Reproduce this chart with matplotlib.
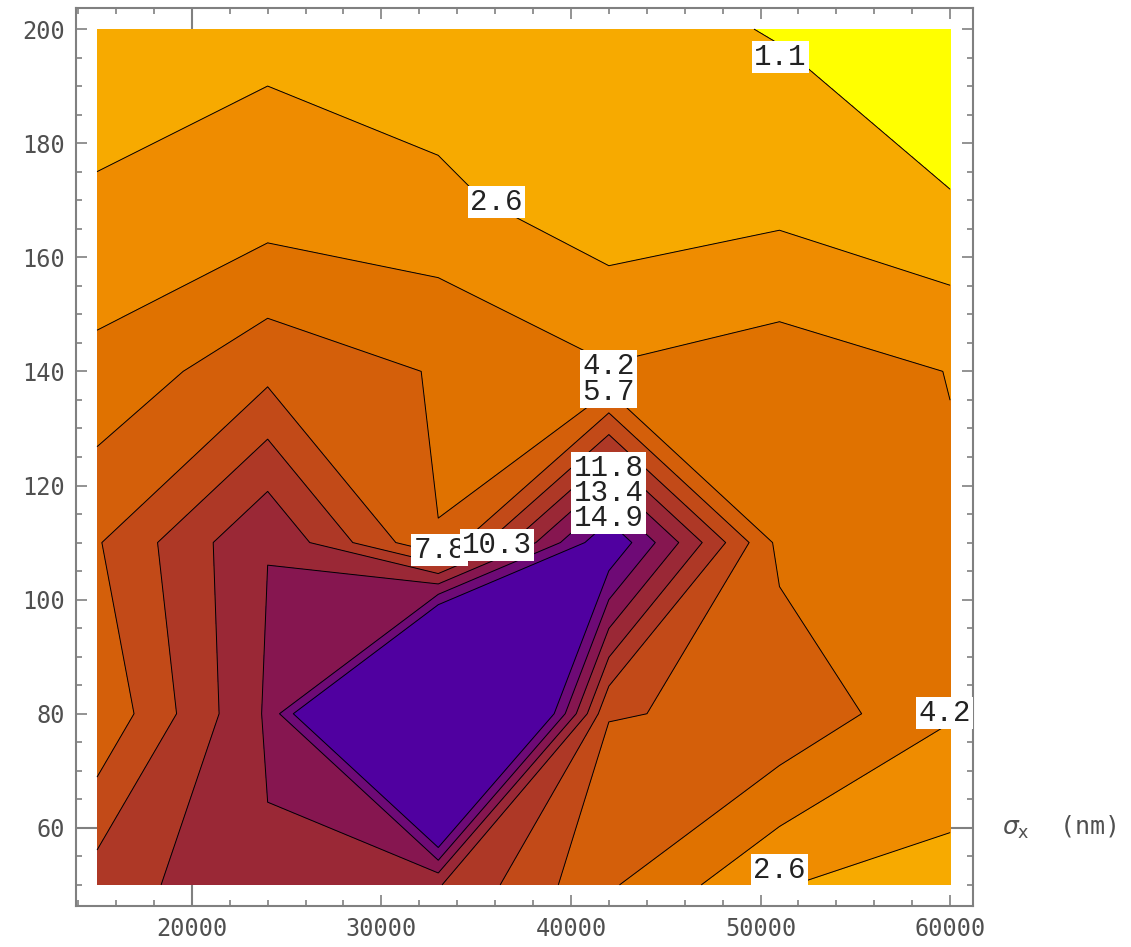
import matplotlib.pyplot as plt
import numpy as np
from matplotlib.ticker import MultipleLocator

# grid of the data (sigma_x in nm along x, second parameter along y)
x_vals = [15000, 24000, 33000, 42000, 51000, 60000]
y_vals = [50, 80, 110, 140, 170, 200]
z_rows = [
    [9.5, 11.63, 10.4, 5.9, 2.7, 1.9],     # y = 50
    [5.9, 12.05, 31.0, 7.3, 7.0, 4.3],     # y = 80
    [7.1, 11.8, 5.72, 16.4, 5.25, 4.35],   # y = 110
    [4.6, 6.78, 5.58, 4.3, 5.0, 4.13],     # y = 140
    [2.8, 3.3, 3.0, 1.6, 2.13, 1.155],     # y = 170
    [1.8, 2.3, 1.6, 1.67, 1.0, 0.3],       # y = 200
]

contour_levels = [1.1, 2.633, 4.167, 5.7, 7.233, 8.767, 10.3, 11.833, 13.367, 14.9]
band_colors = ['#FFFF00', '#F7AA00', '#EF8C00', '#E07200', '#D45F0A', '#C24A18',
               '#AE3826', '#9A2836', '#861650', '#6E0A76', '#5000A0']

# contour labels as they sit in the picture: text, x, y
contour_labels = [
    ('1.1', 51040, 195.1),
    ('2.6', 36080, 169.7),
    ('4.2', 41980, 140.9),
    ('5.7', 41980, 136.4),
    ('11.8', 41980, 123.1),
    ('13.4', 41980, 118.7),
    ('14.9', 41980, 114.3),
    ('7.8', 33070, 108.7),
    ('10.3', 36080, 109.6),
    ('4.2', 59700, 80.1),
    ('2.6', 50990, 52.6),
]

X, Y = np.meshgrid(x_vals, y_vals)
Z = np.array(z_rows)

fig = plt.figure(figsize=(11.31, 9.47), dpi=100)
ax = fig.add_axes([0.0672, 0.0433, 0.7931, 0.9483])

fill_levels = [Z.min() - 1] + contour_levels + [Z.max() + 1]
ax.contourf(X, Y, Z, levels=fill_levels, colors=band_colors, zorder=2)
ax.contour(X, Y, Z, levels=contour_levels, colors='black', linewidths=0.7, zorder=3)

# axes crossing at (20000, 60), mostly hidden under the filled contours
ax.axhline(60, color='#808080', lw=1.5, zorder=1)
ax.axvline(20000, color='#808080', lw=1.5, zorder=1)

for i, (txt, lx, ly) in enumerate(contour_labels):
    ax.text(lx, ly, txt, ha='center', va='center', fontsize=21,
            family='Liberation Mono', color='#222222', zorder=5 + i,
            bbox=dict(facecolor='white', edgecolor='none', pad=1.5))

ax.set_xlim(13890, 61210)
ax.set_ylim(46.3, 203.7)
ax.set_xticks([20000, 30000, 40000, 50000, 60000])
ax.set_yticks([60, 80, 100, 120, 140, 160, 180, 200])
ax.xaxis.set_minor_locator(MultipleLocator(2000))
ax.yaxis.set_minor_locator(MultipleLocator(5))
ax.tick_params(which='both', direction='in', top=True, right=True,
               labeltop=False, labelright=False, color='#808080', width=1.2)
ax.tick_params(which='major', length=8, pad=8, labelsize=17, labelcolor='#505050')
ax.tick_params(which='minor', length=4)
for lab in ax.get_xticklabels() + ax.get_yticklabels():
    lab.set_family('DejaVu Sans Mono')
for sp in ax.spines.values():
    sp.set_color('#808080')
    sp.set_linewidth(1.5)

ax.text(1.032, 60, r'$\sigma_{\rm x}$  (nm)', transform=ax.get_yaxis_transform(),
        ha='left', va='center', fontsize=18, color='#505050',
        family='DejaVu Sans Mono')

fig.savefig('out.png', dpi=100)
